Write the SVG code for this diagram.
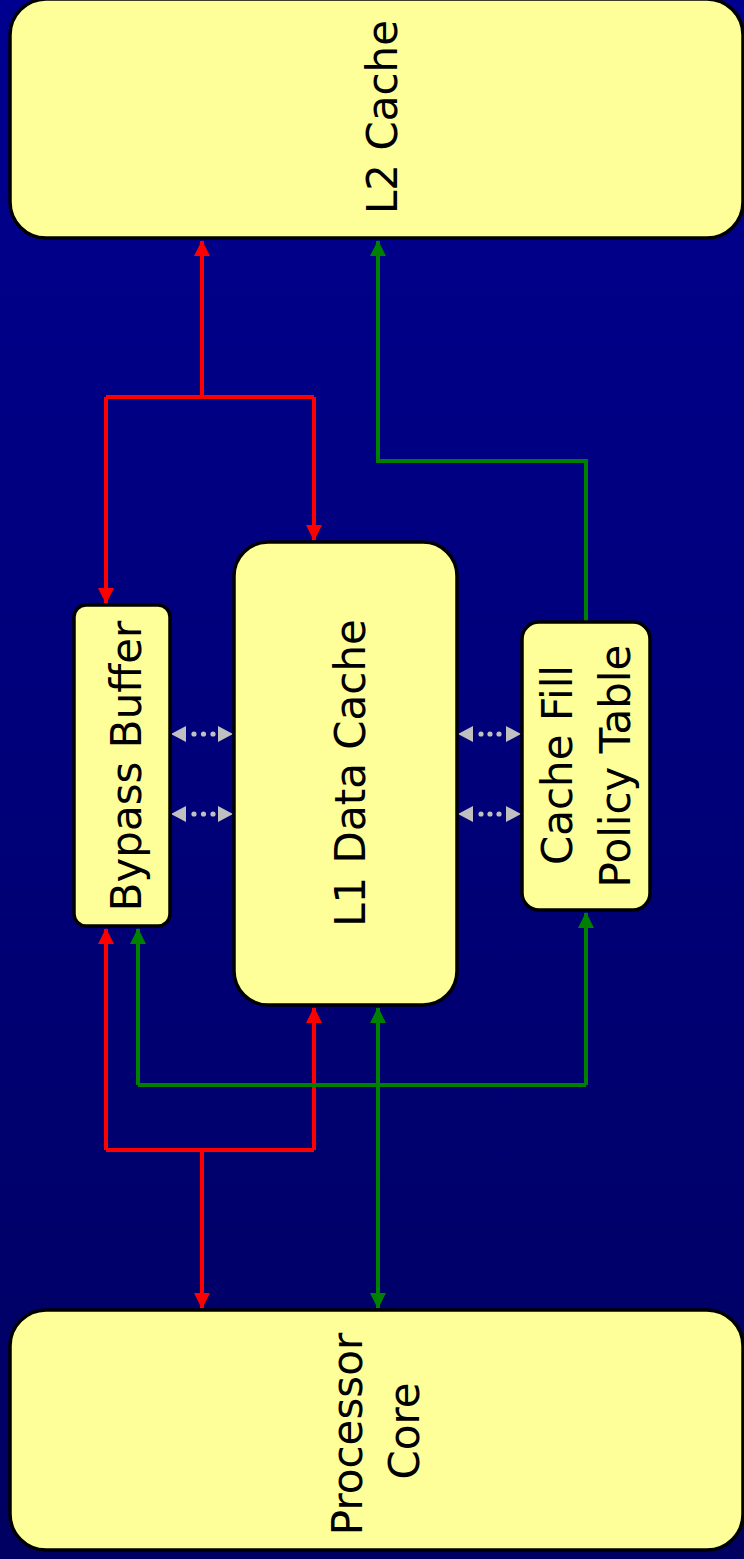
<svg xmlns="http://www.w3.org/2000/svg" width="744" height="1559" viewBox="0 0 744 1559">
<defs>
<linearGradient id="bg" x1="0" y1="0" x2="0" y2="1">
<stop offset="0" stop-color="#000090"/>
<stop offset="1" stop-color="#000062"/>
</linearGradient>
<marker id="ar" viewBox="0 0 16 16" refX="15" refY="8" markerWidth="16" markerHeight="16" markerUnits="userSpaceOnUse" orient="auto-start-reverse"><path d="M0,0 L16,8 L0,16 Z" fill="#FF0000"/></marker>
<marker id="ag" viewBox="0 0 16 16" refX="15" refY="8" markerWidth="16" markerHeight="16" markerUnits="userSpaceOnUse" orient="auto-start-reverse"><path d="M0,0 L16,8 L0,16 Z" fill="#008000"/></marker>
</defs>
<style>
.box{fill:#FFFF99;stroke:#000;stroke-width:3.5}
.t{font-family:"DejaVu Sans",Verdana,sans-serif;font-size:42px;fill:#000;text-anchor:middle}
.r{fill:none;stroke:#FF0000;stroke-width:4}
.g{fill:none;stroke:#008000;stroke-width:4}
.gr{fill:#C0C0C0}
</style>
<rect width="744" height="1559" fill="url(#bg)"/>
<g id="connectors">
<path class="r" d="M202,397 V241" marker-end="url(#ar)"/>
<path class="r" d="M106,397 H314"/>
<path class="r" d="M106,397 V603" marker-end="url(#ar)"/>
<path class="r" d="M314,397 V540" marker-end="url(#ar)"/>
<path class="r" d="M202,1150 V1308" marker-end="url(#ar)"/>
<path class="r" d="M106,1150 H314"/>
<path class="r" d="M106,1150 V929" marker-end="url(#ar)"/>
<path class="r" d="M314,1150 V1008" marker-end="url(#ar)"/>
<path class="g" d="M586,622 V461 H378 V241" marker-end="url(#ag)"/>
<path class="g" d="M378,1008 V1308" marker-start="url(#ag)" marker-end="url(#ag)"/>
<path class="g" d="M138,1085 H586"/>
<path class="g" d="M138,1085 V929" marker-end="url(#ag)"/>
<path class="g" d="M586,1085 V913" marker-end="url(#ag)"/>
<g class="gr">
<path d="M171,734 L186,726 L186,742 Z M233,734 L218,726 L218,742 Z M171,814 L186,806 L186,822 Z M233,814 L218,806 L218,822 Z M458,734 L473,726 L473,742 Z M521,734 L506,726 L506,742 Z M458,814 L473,806 L473,822 Z M521,814 L506,806 L506,822 Z"/>
<circle cx="194" cy="734" r="2.6"/><circle cx="203.5" cy="734" r="2.6"/><circle cx="213" cy="734" r="2.6"/>
<circle cx="194" cy="814" r="2.6"/><circle cx="203.5" cy="814" r="2.6"/><circle cx="213" cy="814" r="2.6"/>
<circle cx="481" cy="734" r="2.6"/><circle cx="490" cy="734" r="2.6"/><circle cx="499" cy="734" r="2.6"/>
<circle cx="481" cy="814" r="2.6"/><circle cx="490" cy="814" r="2.6"/><circle cx="499" cy="814" r="2.6"/>
</g>
</g>
<g id="l2">
<rect class="box" x="10" y="-1" width="733" height="239" rx="36"/>
<text class="t" transform="translate(397,117) rotate(-90)">L2 Cache</text>
</g>
<g id="l1">
<rect class="box" x="234" y="542" width="223" height="463" rx="34"/>
<text class="t" transform="translate(365,773) rotate(-90)">L1 Data Cache</text>
</g>
<g id="bypass">
<rect class="box" x="74" y="605" width="96" height="321" rx="12"/>
<text class="t" transform="translate(141,766) rotate(-90)">Bypass Buffer</text>
</g>
<g id="cfpt">
<rect class="box" x="522" y="622" width="128" height="288" rx="17"/>
<text class="t" transform="translate(572,765) rotate(-90)">Cache Fill</text>
<text class="t" transform="translate(630,766) rotate(-90)">Policy Table</text>
</g>
<g id="core">
<rect class="box" x="10" y="1310" width="733" height="240" rx="36"/>
<text class="t" transform="translate(362,1434) rotate(-90)">Processor</text>
<text class="t" transform="translate(419,1431) rotate(-90)">Core</text>
</g>
</svg>
